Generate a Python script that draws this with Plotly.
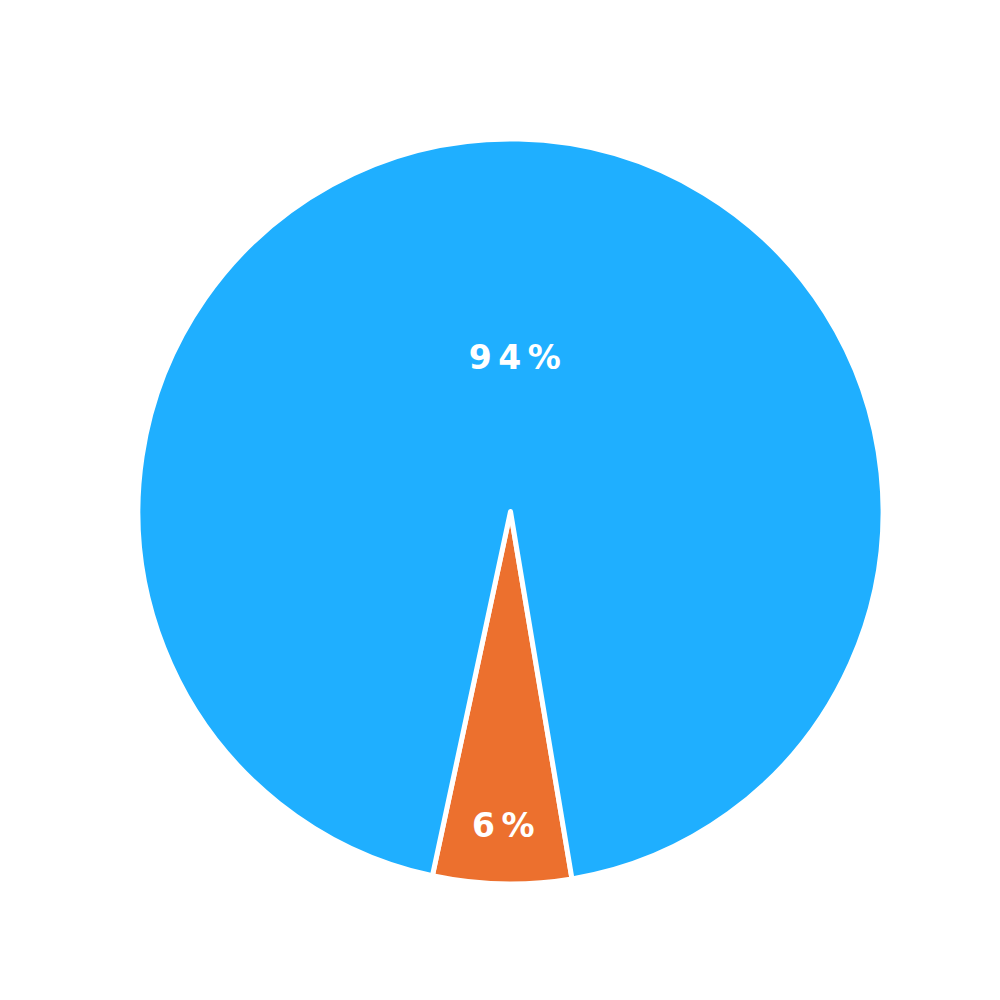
import plotly.graph_objects as go

labels = ["A", "B"]
values = [6, 94]
colors = ["#EC702E", "#1FAFFF"]

total = sum(values)
# percent labels, letter-spaced like the reference
pct_text = ["\u2009".join(f"{round(v / total * 100)}%") for v in values]
# the large slice label sits lower in the reference: pad with a blank first line
pct_text = [t if v / total < 0.5 else "<span style='font-size:57px'>\u00a0</span><br>" + t
            for t, v in zip(pct_text, values)]

fig = go.Figure(go.Pie(
    labels=labels,
    values=values,
    text=pct_text,
    sort=False,
    direction="clockwise",
    rotation=170.5,
    marker=dict(colors=colors, line=dict(color="white", width=5)),
    texttemplate="%{text}",
    textposition="inside",
    insidetextorientation="horizontal",
    textfont=dict(family="DejaVu Sans", size=33, color="white", weight="bold"),
    showlegend=False,
    hoverinfo="label+percent",
))
fig.update_layout(
    width=1000, height=1000,
    margin=dict(l=130, r=125, t=131, b=124),
    paper_bgcolor="white",
    plot_bgcolor="white",
)
fig.write_html("out.html")
